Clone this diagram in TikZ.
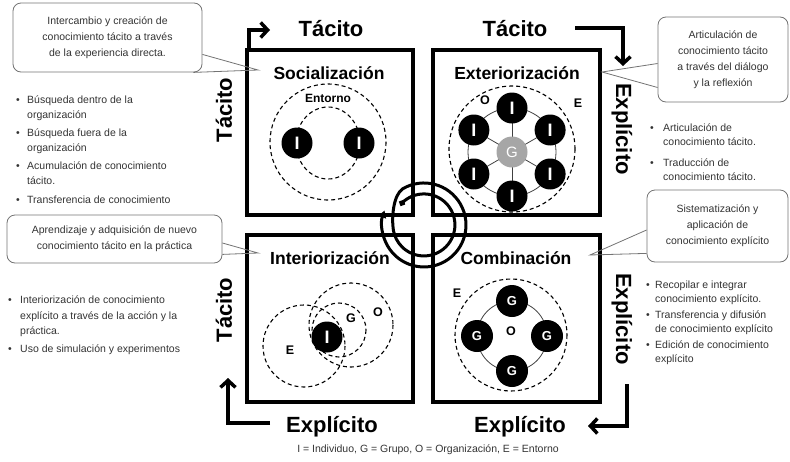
\documentclass[tikz,border=0pt]{standalone}
\usepackage{fontspec}
\setmainfont{Liberation Sans}
\usetikzlibrary{arrows.meta,calc}

\begin{document}
\begin{tikzpicture}[x=1pt,y=-1pt,
  cuadrante/.style={draw,line width=3.5pt,minimum width=166pt,minimum height=165pt,inner sep=0pt},
  titulo/.style={font=\fontsize{17.5}{20}\selectfont\bfseries},
  eje/.style={font=\fontsize{22}{24}\selectfont\bfseries},
  flecha/.style={line width=3.5pt,-{Straight Barb[length=7pt,width=15pt]}},
  espiral/.style={line width=3pt,-{Triangle[length=7pt,width=8pt]}},
  zona/.style={line width=1.1pt,dash pattern=on 4pt off 3pt},
  enlace/.style={line width=0.8pt,black!75},
  indiv/.style={circle,fill=black,minimum size=31pt,inner sep=0pt,text=white,font=\fontsize{18}{18}\selectfont\bfseries},
  grupo/.style={indiv,minimum size=32pt,font=\fontsize{13}{13}\selectfont\bfseries},
  letra/.style={font=\fontsize{12.5}{13}\selectfont\bfseries},
  globo/.style={draw=black!55,line width=0.8pt,rounded corners=8pt,align=center,text=black!80,font=\fontsize{10.5}{16}\selectfont,inner sep=0pt},
  cola/.style={draw=black!55,line width=0.8pt},
  lista/.style={anchor=north west,inner sep=0pt,text=black!80}
]
\useasboundingbox (0,0) rectangle (790,461);
% Cuadrantes
\node[cuadrante] (socializacion) at (330,132.5) {};
\node[cuadrante,minimum width=167pt] (exteriorizacion) at (516.5,132.5) {};
\node[cuadrante,minimum height=167pt] (interiorizacion) at (330,318.5) {};
\node[cuadrante,minimum width=167pt,minimum height=167pt] (combinacion) at (516.5,318.5) {};
\node[titulo] (tSoc) at (329,73) {Socialización};
\node[titulo] (tExt) at (517,73) {Exteriorización};
\node[titulo] (tInt) at (330,258) {Interiorización};
\node[titulo] (tCom) at (516,258) {Combinación};
% Socializacion
\draw[zona] (328,142) circle[radius=58];
\draw[zona] (328,143) ellipse[x radius=32,y radius=36];
\node[indiv] (iSoc1) at (297,143) {I};
\node[indiv] (iSoc2) at (359,143) {I};
\node[font=\fontsize{12}{12}\selectfont\bfseries] (entorno) at (328,98) {Entorno};
% Exteriorizacion
\draw[zona] (512,149) circle[radius=63];
\draw[enlace] (512,152) circle[radius=44];
\foreach \a in {30,90,...,330}
  \draw[enlace] (512,152) -- ++(\a:44) node[indiv] (iExt\a) {I};
\node[indiv,fill=black!35,font=\fontsize{15}{15}\selectfont] (gExt) at (512,152) {G};
\node[letra] (oExt) at (485,100) {O};
\node[letra] (eExt) at (578,103) {E};
% Interiorizacion
\draw[zona] (304,346) circle[radius=41];
\draw[zona] (351,325) circle[radius=42];
\draw[zona] (339,330) circle[radius=27];
\node[indiv] (iInt) at (327,337) {I};
\node[letra] (eInt) at (290,350) {E};
\node[letra] (gInt) at (351,318) {G};
\node[letra] (oInt) at (378,312) {O};
% Combinacion
\draw[zona] (511,335) circle[radius=56];
\draw[enlace] (512,336) circle[radius=35];
\foreach \a in {0,90,180,270}
  \path (512,336) ++(\a:35) node[grupo] (gCom\a) {G};
\node[letra] (oCom) at (511,331) {O};
\node[letra] (eCom) at (457,293) {E};
% Espiral central
\node[fill,minimum size=5pt,inner sep=0pt,rotate=20] (inicioEsp) at (402,203) {};
\draw[espiral] (inicioEsp.center) arc[start angle=225,end angle=530,radius=31]
  .. controls (391.5,218) and (393,195) .. (403,188.6)
  arc[start angle=240,end angle=560,radius=42];
% Ejes
\node[eje] (tacitoA) at (331,29) {Tácito};
\node[eje] (tacitoB) at (515,29) {Tácito};
\node[eje] (explicitoA) at (332,427) {Explícito};
\node[eje] (explicitoB) at (520,427) {Explícito};
\node[eje,rotate=90] (tacitoC) at (224,110) {Tácito};
\node[eje,rotate=90] (tacitoD) at (224,310) {Tácito};
\node[eje,rotate=-90] (explicitoC) at (622,129) {Explícito};
\node[eje,rotate=-90] (explicitoD) at (622,319) {Explícito};
% Flechas
\coordinate (finA) at (270,30);
\coordinate (inicioB) at (575,28);
\coordinate (finB) at (623,66);
\coordinate (inicioC) at (627,384);
\coordinate (finC) at (588,426);
\coordinate (inicioD) at (270,423);
\coordinate (finD) at (228,378);
\draw[flecha] ([xshift=3.5pt]socializacion.north west) |- (finA);
\draw[flecha] (inicioB) -| (finB);
\draw[flecha] (inicioC) |- (finC);
\draw[flecha] (inicioD) -| (finD);
% Globos
\node[globo,minimum width=189pt,minimum height=69pt] (globoSoc) at (107.5,37.5)
  {Intercambio y creación de\\conocimiento tácito a través\\de la experiencia directa.};
\node[globo,minimum width=130pt,minimum height=85pt] (globoExt) at (723,59.5)
  {Articulación de\\conocimiento tácito\\a través del diálogo\\y la reflexión};
\node[globo,minimum width=215pt,minimum height=48pt] (globoInt) at (114.5,239)
  {Aprendizaje y adquisición de nuevo\\conocimiento tácito en la práctica};
\node[globo,minimum width=141pt,minimum height=72pt] (globoCom) at (717.5,226)
  {Sistematización y\\aplicación de\\conocimiento explícito};
\coordinate (puntaSoc) at (258,70);
\coordinate (puntaExt) at (602,72);
\coordinate (puntaInt) at (258,253);
\coordinate (puntaCom) at (590,255);
\draw[cola] ($(globoSoc.south east)+(0,-18)$) -- (puntaSoc) -- ($(globoSoc.south east)+(-9,0)$);
\draw[cola] ($(globoExt.west)+(0,4)$) -- (puntaExt) -- ($(globoExt.west)+(0,28)$);
\draw[cola] ($(globoInt.east)+(0,4)$) -- (puntaInt) -- ($(globoInt.south east)+(0,-9)$);
\draw[cola] ($(globoCom.west)+(0,4)$) -- (puntaCom) -- ($(globoCom.south west)+(0,-9)$);
% Listas
\node[lista,font=\fontsize{10.5}{14.3}\selectfont] (listaSoc) at (16,93.5) {%
  \begin{tabular}{@{}p{11pt}@{}l@{}}
  \textbullet & Búsqueda dentro de la\\
              & organización\\[4.5pt]
  \textbullet & Búsqueda fuera de la\\
              & organización\\[4.5pt]
  \textbullet & Acumulación de conocimiento\\
              & tácito.\\[4.5pt]
  \textbullet & Transferencia de conocimiento
  \end{tabular}};
\node[lista,font=\fontsize{10.5}{14}\selectfont] (listaExt) at (650,121.7) {%
  \begin{tabular}{@{}p{13pt}@{}l@{}}
  \textbullet & Articulación de\\
              & conocimiento tácito.\\[7pt]
  \textbullet & Traducción de\\
              & conocimiento tácito.
  \end{tabular}};
\node[lista,font=\fontsize{10.5}{15.5}\selectfont] (listaInt) at (8,292.5) {%
  \begin{tabular}{@{}p{12pt}@{}l@{}}
  \textbullet & Interiorización de conocimiento\\
              & explícito a través de la acción y la\\
              & práctica.\\[2pt]
  \textbullet & Uso de simulación y experimentos
  \end{tabular}};
\node[lista,font=\fontsize{10.5}{14}\selectfont] (listaCom) at (646,278.7) {%
  \begin{tabular}{@{}p{9pt}@{}l@{}}
  \textbullet & Recopilar e integrar\\
              & conocimiento explícito.\\[2pt]
  \textbullet & Transferencia y difusión\\
              & de conocimiento explícito\\[2pt]
  \textbullet & Edición de conocimiento\\
              & explícito
  \end{tabular}};
% Leyenda
\node[font=\fontsize{10.5}{12}\selectfont,text=black!80] (leyenda) at (428,450)
  {I = Individuo, G = Grupo, O = Organización, E = Entorno};
\end{tikzpicture}
\end{document}
